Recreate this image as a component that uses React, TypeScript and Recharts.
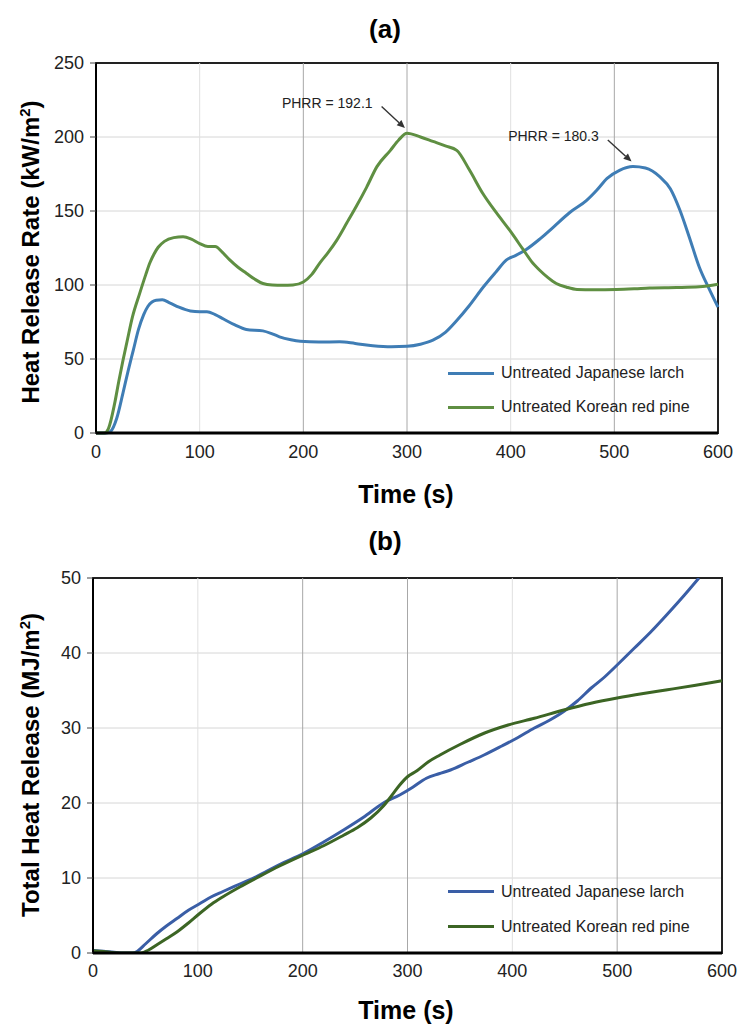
import React from 'react';
import { LineChart, Line, XAxis, YAxis, CartesianGrid, ReferenceLine, ReferenceArea, Legend } from 'recharts';

const timeTicks = [0, 100, 200, 300, 400, 500, 600];
const hrrTicks = [0, 50, 100, 150, 200, 250];
const thrTicks = [0, 10, 20, 30, 40, 50];

// grid strengths as drawn in the source figure
const lightGridX = [100, 400];
const darkGridX = [200, 300, 500];

// (a) heat release rate, kW/m2
const larchHrrTime = [0, 10, 14, 20, 26, 31, 36, 41, 46, 50, 54, 58, 64, 71, 80, 91, 100, 107, 115, 123, 134, 145, 161, 170, 177, 188, 197, 215, 235, 250, 267, 285, 300, 313, 325, 337, 348, 360, 374, 386, 396, 405, 415, 428, 441, 457, 473, 483, 493, 505, 518, 530, 544, 554, 563, 572, 582, 591, 600];
const larchHrr = [0, 0, 1, 10, 27, 42, 56, 70, 80, 85.5, 88.5, 89.7, 90, 88, 85, 82.5, 82, 82, 80, 77, 73, 70, 69, 67, 65, 63, 62, 61.5, 61.6, 60.5, 59, 58.3, 58.6, 60, 62.7, 68, 76, 86, 99, 109, 117, 120, 124, 131, 139, 149, 157, 164, 172, 177.5, 180, 179, 173, 165, 151, 133, 112, 98, 85];

const pineHrrTime = [0, 8, 12, 18, 22, 26, 30, 35, 42, 48, 52, 56, 60, 66, 75, 84, 92, 100, 108, 115, 122, 129, 137, 145, 153, 161, 170, 180, 190, 200, 208, 216, 224, 232, 242, 251, 261, 271, 284, 292, 300, 313, 325, 337, 348, 360, 373, 386, 399, 412, 420, 428, 436, 444, 454, 464, 480, 502, 520, 534, 560, 582, 600];
const pineHrr = [0, 0, 3, 20, 35, 49, 62, 78, 94, 107, 115, 121, 125.5, 129.5, 132, 132.6, 131, 128, 126, 126, 122, 117, 112, 108, 104, 101, 100, 99.8, 100, 102, 107, 115, 122, 130, 142, 153, 166, 180, 191, 198, 202.5, 200, 197, 194, 191, 178, 162, 149, 137, 124, 116, 110, 105, 101, 98.5, 97, 96.8, 97, 97.5, 98, 98.3, 98.8, 100.5];

// (b) total heat release, MJ/m2
const larchThrTime = [0, 10, 20, 30, 38, 42, 50, 61, 70, 80, 91, 102, 113, 124, 140, 156, 178, 201, 220, 239, 258, 277, 293, 305, 318, 330, 341, 357, 373, 390, 405, 421, 435, 449, 462, 475, 488, 500, 516, 532, 548, 564, 578];
const larchThr = [0.35, 0.25, 0.1, 0, 0, 0.2, 1.2, 2.6, 3.6, 4.6, 5.7, 6.6, 7.5, 8.2, 9.2, 10.2, 11.8, 13.3, 14.8, 16.4, 18.1, 20.0, 21.1, 22.1, 23.3, 23.9, 24.4, 25.4, 26.4, 27.6, 28.7, 30.0, 31.0, 32.2, 33.6, 35.3, 36.8, 38.4, 40.6, 42.8, 45.2, 47.7, 50];

const pineThrTime = [0, 10, 20, 30, 46, 53, 61, 70, 80, 91, 102, 113, 124, 140, 156, 178, 201, 220, 239, 252, 265, 277, 285, 292, 300, 309, 320, 331, 350, 373, 396, 421, 449, 475, 500, 525, 548, 575, 600];
const pineThr = [0.3, 0.2, 0.05, 0, 0, 0.4, 1.1, 1.9, 2.8, 4.0, 5.3, 6.5, 7.5, 8.8, 10.0, 11.6, 13.1, 14.3, 15.7, 16.7, 18.0, 19.6, 21.0, 22.3, 23.5, 24.3, 25.5, 26.4, 27.8, 29.3, 30.4, 31.3, 32.4, 33.3, 34.0, 34.6, 35.1, 35.7, 36.3];

const zip = (t: number[], v: number[]) => t.map((x, i) => ({ t: x, v: v[i] }));

const FONT = '"Liberation Sans", Arial, sans-serif';
const tickStyle = { fontSize: 18, fill: '#222', fontFamily: FONT };

const Arrow = (props: any) => {
  const { x1, y1, x2, y2, text } = props;
  const ang = Math.atan2(y2 - y1, x2 - x1);
  const len = 8;
  const w = 3.5;
  const bx = x2 - len * Math.cos(ang);
  const by = y2 - len * Math.sin(ang);
  const px = -Math.sin(ang) * w;
  const py = Math.cos(ang) * w;
  return (
    <g>
      <line x1={x1} y1={y1} x2={bx} y2={by} stroke="#333" strokeWidth={1.4} />
      <polygon points={`${x2},${y2} ${bx + px},${by + py} ${bx - px},${by - py}`} fill="#333" />
      <text x={x1 - 9} y={y1 + 1.5} textAnchor="end" fontSize={14} fill="#222" fontFamily={FONT}>{text}</text>
    </g>
  );
};

const renderLegend = (rowH: number) => (props: any) => (
  <div style={{ fontFamily: FONT, fontSize: 16, color: '#222' }}>
    {props.payload.map((e: any) => (
      <div key={e.value} style={{ display: 'flex', alignItems: 'center', height: rowH }}>
        <span style={{ display: 'inline-block', width: 46, height: 3, background: e.color, marginRight: 7 }} />
        <span>{e.value}</span>
      </div>
    ))}
  </div>
);

const Title = ({ x, y, children, rotate, size = 24 }: any) => (
  <div style={{
    position: 'absolute', left: x, top: y, whiteSpace: 'nowrap',
    transform: `translate(-50%, -50%)${rotate ? ' rotate(-90deg)' : ''}`,
    fontFamily: FONT, fontWeight: 'bold', fontSize: size, color: '#000', lineHeight: 1,
  }}>{children}</div>
);

export default function App() {
  return (
    <div style={{ position: 'absolute', left: 0, top: 0, width: 742, height: 1025, background: '#fff', fontFamily: FONT }}>
      <Title x={385} y={29} size={26}>(a)</Title>
      <Title x={30} y={252} rotate>Heat Release Rate (kW/m<sup style={{ fontSize: 15 }}>2</sup>)</Title>
      <Title x={406} y={494} size={25}>Time (s)</Title>
      <div style={{ position: 'absolute', left: 0, top: 0 }}>
        <LineChart width={742} height={520} margin={{ top: 63, right: 24, left: 0, bottom: 0 }}>
          <CartesianGrid vertical={false} stroke="#d6d6d6" />
          {lightGridX.map((x) => <ReferenceLine key={x} x={x} stroke="#e0e0e0" />)}
          {darkGridX.map((x) => <ReferenceLine key={x} x={x} stroke="#a8a8a8" />)}
          <XAxis type="number" dataKey="t" domain={[0, 600]} ticks={timeTicks} height={87}
            tick={tickStyle} tickSize={0} tickMargin={12} axisLine={{ stroke: '#000', strokeWidth: 3 }} />
          <YAxis type="number" domain={[0, 250]} ticks={hrrTicks} width={96}
            tick={tickStyle} tickSize={6} tickLine={{ stroke: '#444' }} tickMargin={6} axisLine={{ stroke: '#000', strokeWidth: 2 }} />
          <ReferenceArea x1={0} x2={600} y1={0} y2={250} fill="none" stroke="#222" strokeWidth={2} />
          <Line data={zip(larchHrrTime, larchHrr)} dataKey="v" name="Untreated Japanese larch" type="monotone"
            stroke="#3f7db5" strokeWidth={3} dot={false} isAnimationActive={false} />
          <Line data={zip(pineHrrTime, pineHrr)} dataKey="v" name="Untreated Korean red pine" type="monotone"
            stroke="#5f8f42" strokeWidth={3} dot={false} isAnimationActive={false} />
          <ReferenceLine segment={[{ x: 275.5, y: 220.6 }, { x: 298, y: 206 }]} shape={(p: any) => <Arrow {...p} text="PHRR = 192.1" />} />
          <ReferenceLine segment={[{ x: 493.7, y: 198 }, { x: 516.6, y: 183.4 }]} shape={(p: any) => <Arrow {...p} text="PHRR = 180.3" />} />
          <Legend layout="vertical" align="center" verticalAlign="middle" content={renderLegend(34)}
            wrapperStyle={{ left: 448, top: 356, width: 'auto' }} />
        </LineChart>
      </div>

      <Title x={385} y={541} size={26}>(b)</Title>
      <Title x={30} y={765} rotate>Total Heat Release (MJ/m<sup style={{ fontSize: 15 }}>2</sup>)</Title>
      <Title x={406} y={1010} size={25}>Time (s)</Title>
      <div style={{ position: 'absolute', left: 0, top: 520 }}>
        <LineChart width={742} height={505} margin={{ top: 58, right: 20, left: 0, bottom: 0 }}>
          <CartesianGrid vertical={false} stroke="#d6d6d6" />
          {lightGridX.map((x) => <ReferenceLine key={x} x={x} stroke="#e0e0e0" />)}
          {darkGridX.map((x) => <ReferenceLine key={x} x={x} stroke="#a8a8a8" />)}
          <XAxis type="number" dataKey="t" domain={[0, 600]} ticks={timeTicks} height={72}
            tick={tickStyle} tickSize={0} tickMargin={11} axisLine={{ stroke: '#000', strokeWidth: 3 }} />
          <YAxis type="number" domain={[0, 50]} ticks={thrTicks} width={93} allowDataOverflow
            tick={tickStyle} tickSize={6} tickLine={{ stroke: '#444' }} tickMargin={6} axisLine={{ stroke: '#000', strokeWidth: 2 }} />
          <ReferenceArea x1={0} x2={600} y1={0} y2={50} fill="none" stroke="#222" strokeWidth={2} />
          <Line data={zip(larchThrTime, larchThr)} dataKey="v" name="Untreated Japanese larch" type="monotone"
            stroke="#3a5ea6" strokeWidth={3} dot={false} isAnimationActive={false} />
          <Line data={zip(pineThrTime, pineThr)} dataKey="v" name="Untreated Korean red pine" type="monotone"
            stroke="#3c6524" strokeWidth={3} dot={false} isAnimationActive={false} />
          <Legend layout="vertical" align="center" verticalAlign="middle" content={renderLegend(35)}
            wrapperStyle={{ left: 448, top: 354, width: 'auto' }} />
        </LineChart>
      </div>
    </div>
  );
}
